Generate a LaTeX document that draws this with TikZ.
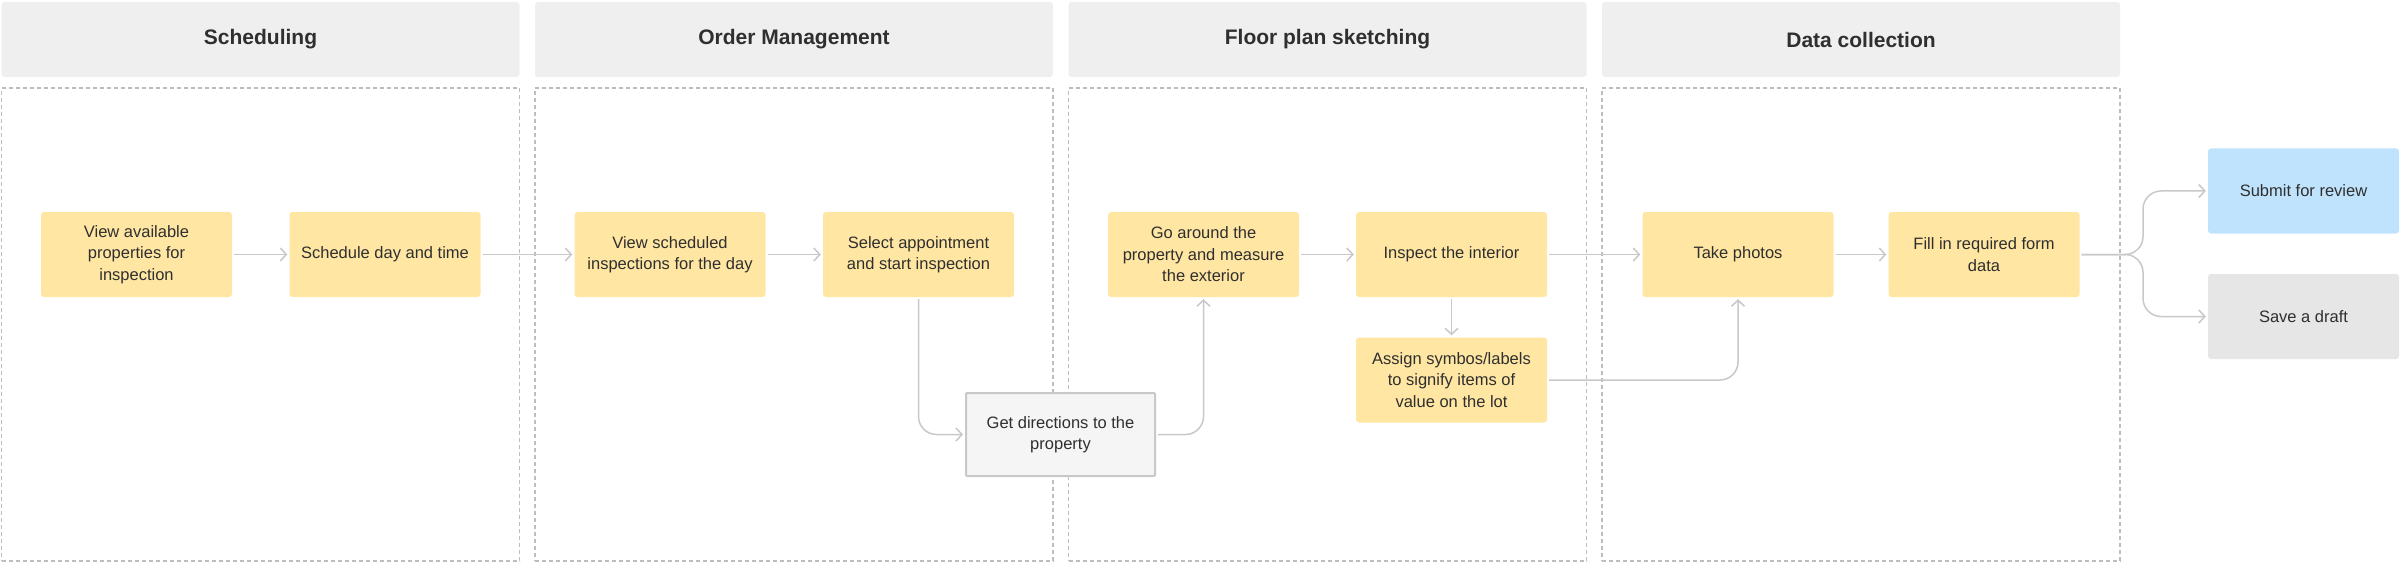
\documentclass[tikz,border=0pt]{standalone}
\usepackage{fontspec}
\setmainfont{Liberation Sans}
\usepackage{tikz}
\usetikzlibrary{arrows.meta, positioning}
\definecolor{taskcolor}{HTML}{FFE6A3}
\definecolor{submitcolor}{HTML}{BFE3FD}
\definecolor{draftcolor}{HTML}{E6E6E6}
\definecolor{headercolor}{HTML}{EFEFEF}
\definecolor{directcolor}{HTML}{F5F5F5}
\definecolor{lanegray}{HTML}{BDBDBD}
\definecolor{linegray}{HTML}{C8C8C8}
\definecolor{textgray}{HTML}{2F2F2F}

\begin{document}
\begin{tikzpicture}[
    x=1pt, y=-1pt,
    header/.style={fill=headercolor, rounded corners=3pt, minimum width=518pt, minimum height=75pt, inner sep=0pt, text=textgray, font=\fontsize{21}{25}\selectfont\bfseries},
    lane/.style={draw=lanegray, line width=1.5pt, dash pattern=on 4pt off 3pt, minimum width=518pt, minimum height=473pt, inner sep=0pt},
    task/.style={fill=taskcolor, rounded corners=3pt, minimum width=191pt, minimum height=85pt, inner sep=0pt, align=center, text=textgray, font=\fontsize{16.5}{21.5}\selectfont},
    direct/.style={task, fill=directcolor, draw=linegray, line width=2pt, rounded corners=1pt, minimum width=189pt, minimum height=83pt},
    submit/.style={task, fill=submitcolor},
    draft/.style={task, fill=draftcolor},
    flow/.style={draw=linegray, line width=1.5pt, rounded corners=18pt, -{Straight Barb[length=6pt, width=13pt]}, shorten >=2pt, shorten <=2pt}
]
    \useasboundingbox (0,0) rectangle (2400,564);

    % Lanes and their headers
    \foreach \i/\name in {1/Scheduling, 2/Order Management, 3/Floor plan sketching, 4/Data collection}{
        \pgfmathsetmacro\lx{1.5+533.5*(\i-1)+259}
        \node[header] (head\i) at (\lx, 39.5) {\name};
        \node[lane] (lane\i) at (\lx, 324.5) {};
    }

    % Scheduling
    \node[task] (avail) at (136.5, 254.5) {View available\\properties for\\inspection};
    \node[task] (sched) at (385, 254.5) {Schedule day and time};

    % Order Management
    \node[task] (viewsched) at (670, 254.5) {View scheduled\\inspections for the day};
    \node[task] (select) at (918.5, 254.5) {Select appointment\\and start inspection};
    \node[direct] (directions) at (1060.5, 434.5) {Get directions to the\\property};

    % Floor plan sketching
    \node[task] (around) at (1203.5, 254.5) {Go around the\\property and measure\\the exterior};
    \node[task] (interior) at (1451.5, 254.5) {Inspect the interior};
    \node[task] (assign) at (1451.5, 380) {Assign symbos/labels\\to signify items of\\value on the lot};

    % Data collection
    \node[task] (photos) at (1738, 254.5) {Take photos};
    \node[task] (formdata) at (1984, 254.5) {Fill in required form\\data};

    % Outcomes
    \node[submit] (submit) at (2303.5, 191) {Submit for review};
    \node[draft] (draft) at (2303.5, 316.5) {Save a draft};
    \coordinate (fork) at (2143, 254.5);

    % Connections
    \draw[flow] (avail) -- (sched);
    \draw[flow] (sched) -- (viewsched);
    \draw[flow] (viewsched) -- (select);
    \draw[flow] (select) |- (directions);
    \draw[flow] (directions) -| (around);
    \draw[flow] (around) -- (interior);
    \draw[flow] (interior) -- (photos);
    \draw[flow] (interior) -- (assign);
    \draw[flow] (assign) -| (photos);
    \draw[flow] (photos) -- (formdata);
    \draw[flow] (formdata) -- (fork) |- (submit);
    \draw[flow] (formdata) -- (fork) |- (draft);

\end{tikzpicture}
\end{document}
